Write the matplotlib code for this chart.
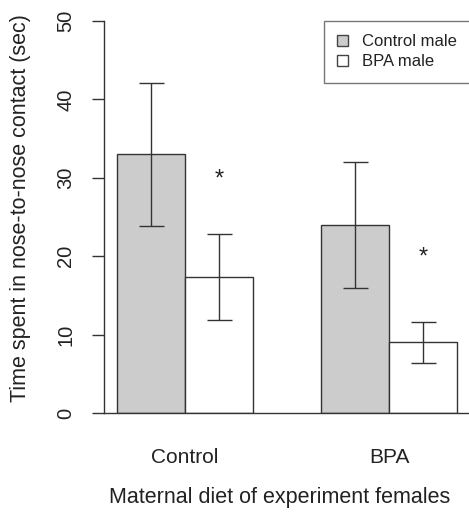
import matplotlib
matplotlib.use("Agg")
import matplotlib.pyplot as plt
from matplotlib.patches import Patch

plt.rcParams['font.family'] = ['Liberation Sans', 'DejaVu Sans']

groups = ['Control', 'BPA']
series = ['Control male', 'BPA male']
means = {
    'Control male': [33.0, 24.0],
    'BPA male': [17.3, 9.0],
}
err_low = {
    'Control male': [23.8, 15.9],
    'BPA male': [11.9, 6.4],
}
err_high = {
    'Control male': [42.1, 32.0],
    'BPA male': [22.8, 11.6],
}
stars = [29.8, 19.8]
colors = {'Control male': '#cccccc', 'BPA male': 'white'}

W, H = 469, 512
fig = plt.figure(figsize=(W / 100, H / 100), dpi=100)
left, right, top, bottom = 103.5, 470.5, 21, 413
ax = fig.add_axes([left / W, 1 - bottom / H, (right - left) / W, (bottom - top) / H])
ax.set_xlim(0.8, 6.2)
ax.set_ylim(0, 50)

edge = '#333333'
centers = [2, 5]
for i, s in enumerate(series):
    xs = [c - 0.5 + i for c in centers]
    ax.bar(xs, means[s], width=1.0, color=colors[s], edgecolor=edge, linewidth=1.0, zorder=2)
    lo = [m - l for m, l in zip(means[s], err_low[s])]
    hi = [h - m for m, h in zip(means[s], err_high[s])]
    ax.errorbar(xs, means[s], yerr=[lo, hi], fmt='none', ecolor=edge,
                elinewidth=1.0, capsize=9, capthick=1.0, zorder=3)

for c, y in zip(centers, stars):
    ax.text(c + 0.5, y, '*', ha='center', va='center', fontsize=17, color='#222222')

ax.spines['top'].set_visible(False)
ax.spines['right'].set_visible(False)
ax.spines['left'].set_color(edge)
ax.spines['bottom'].set_color(edge)
ax.spines['left'].set_linewidth(1.0)
ax.spines['bottom'].set_linewidth(1.0)

ax.set_yticks([0, 10, 20, 30, 40, 50])
ax.set_yticklabels(['0', '10', '20', '30', '40', '50'], rotation=90, va='center',
                   fontsize=14.5, color='#222222')
ax.tick_params(axis='y', length=8.5, width=1.0, color=edge, pad=12)

ax.set_xticks(centers)
ax.set_xticklabels(groups, fontsize=15, color='#222222')
ax.tick_params(axis='x', length=0, pad=25)

fig.text(280 / W, 1 - 497 / H, 'Maternal diet of experiment females',
         ha='center', va='center', fontsize=15.5, color='#222222')
fig.text(21 / W, 1 - 208 / H, 'Time spent in nose-to-nose contact (sec)',
         ha='center', va='center', rotation=90, fontsize=15.5, color='#222222')

handles = [Patch(facecolor=colors[s], edgecolor='#444444', linewidth=1.0) for s in series]
leg = ax.legend(handles, series, loc='upper right', bbox_to_anchor=(1.0, 1.0),
                fontsize=12, frameon=True, fancybox=False, borderaxespad=0,
                handlelength=0.65, handleheight=0.65, handletextpad=0.85,
                labelspacing=0.3, borderpad=0.8)
leg.get_frame().set_edgecolor('#555555')
leg.get_frame().set_linewidth(1.0)
for t in leg.get_texts():
    t.set_color('#222222')

fig.savefig('out.png', dpi=100)
